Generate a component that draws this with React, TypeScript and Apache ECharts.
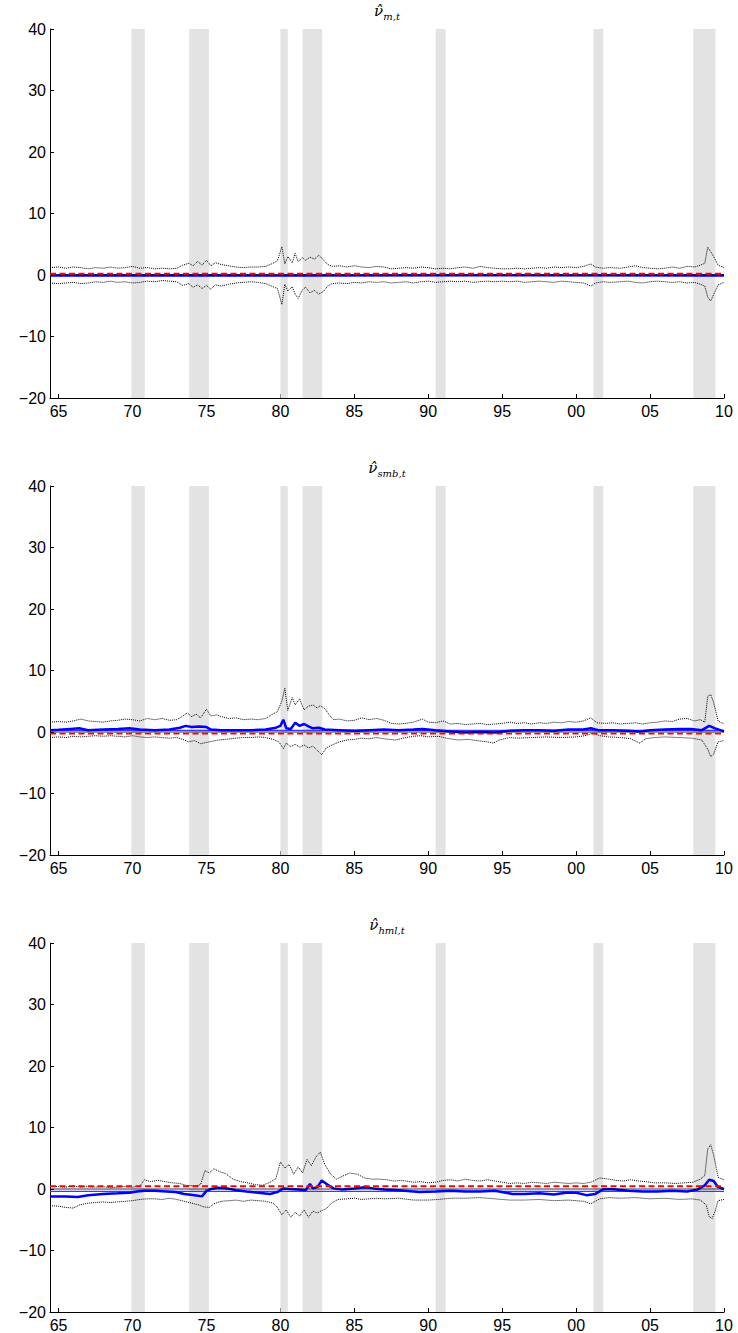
import React, { useEffect, useRef } from "react";
import * as echarts from "echarts";

// ---------- DATA ----------
const xTicks = [1965, 1970, 1975, 1980, 1985, 1990, 1995, 2000, 2005, 2010];
const yTicksMin = -20;
const yTicksMax = 40;
const xMin = 1964.42;
const xMax = 2010;

const recessions: [number, number][] = [
  [1969.92, 1970.83], [1973.83, 1975.17], [1980.0, 1980.5], [1981.5, 1982.83],
  [1990.5, 1991.17], [2001.17, 2001.83], [2007.92, 2009.42],
];

const panelTitles = ["m,t", "smb,t", "hml,t"];

// Panel 1: market
const mUpper: [number, number][] = [
  [1964.42,1.2],[1965,1.3],[1965.5,1.1],[1966,1.3],[1966.5,1.2],[1967,1.0],[1967.5,1.2],[1968,1.1],[1968.5,1.3],[1969,1.1],[1969.5,1.2],[1970,1.4],[1970.5,1.1],[1971,1.2],[1971.5,1.0],[1972,1.1],[1972.5,1.0],[1973,1.1],[1973.4,1.6],[1973.8,1.9],[1974.1,1.5],[1974.4,2.2],[1974.7,1.6],[1975,2.4],[1975.3,1.5],[1975.6,2.0],[1976,1.7],[1976.5,1.5],[1977,1.3],[1977.5,1.2],[1978,1.3],[1978.5,1.3],[1979,1.4],[1979.5,1.9],[1979.8,2.3],[1980.1,4.6],[1980.3,1.8],[1980.5,3.0],[1980.8,2.0],[1981,3.5],[1981.2,2.2],[1981.5,2.8],[1981.7,2.4],[1982,2.9],[1982.3,2.6],[1982.6,3.2],[1982.9,2.5],[1983.2,1.7],[1983.5,1.4],[1984,1.5],[1984.5,1.3],[1985,1.5],[1985.5,1.3],[1986,1.2],[1986.5,1.4],[1987,1.3],[1987.5,1.0],[1988,1.1],[1988.5,1.2],[1989,1.1],[1989.5,1.3],[1990,1.2],[1990.5,1.0],[1991,1.1],[1991.5,1.0],[1992,1.2],[1992.5,1.3],[1993,1.1],[1993.5,1.4],[1994,1.2],[1994.5,1.1],[1995,1.0],[1995.5,1.0],[1996,1.1],[1996.5,1.0],[1997,1.1],[1997.5,1.2],[1998,1.1],[1998.5,1.3],[1999,1.2],[1999.5,1.3],[2000,1.2],[2000.5,1.4],[2001,1.8],[2001.3,1.3],[2001.8,1.1],[2002.3,1.2],[2003,1.1],[2003.5,1.3],[2004,1.5],[2004.5,1.2],[2005,1.1],[2005.5,1.0],[2006,1.1],[2006.5,1.3],[2007,1.1],[2007.5,1.4],[2008,1.3],[2008.4,1.6],[2008.7,1.9],[2008.9,4.5],[2009.1,3.8],[2009.3,3.0],[2009.6,1.6],[2010,1.2],
];
const mLower: [number, number][] = [
  [1964.42,-1.3],[1965,-1.4],[1965.5,-1.3],[1966,-1.2],[1966.5,-1.4],[1967,-1.3],[1967.5,-1.1],[1968,-1.2],[1968.5,-1.0],[1969,-1.2],[1969.5,-1.1],[1970,-1.3],[1970.5,-1.2],[1971,-1.0],[1971.5,-1.1],[1972,-0.9],[1972.5,-1.0],[1973,-1.1],[1973.4,-1.7],[1973.8,-1.4],[1974.1,-2.0],[1974.4,-1.6],[1974.7,-2.2],[1975,-1.7],[1975.3,-2.3],[1975.6,-1.6],[1976,-1.8],[1976.5,-1.5],[1977,-1.3],[1977.5,-1.2],[1978,-1.1],[1978.5,-1.2],[1979,-1.4],[1979.5,-1.9],[1979.8,-2.2],[1980.1,-4.8],[1980.3,-1.5],[1980.5,-2.6],[1980.8,-1.9],[1981,-3.1],[1981.2,-3.8],[1981.5,-2.4],[1981.7,-2.0],[1982,-2.9],[1982.3,-2.5],[1982.6,-3.1],[1982.9,-2.7],[1983.2,-1.8],[1983.5,-1.4],[1984,-1.3],[1984.5,-1.4],[1985,-1.2],[1985.5,-1.3],[1986,-1.1],[1986.5,-1.2],[1987,-1.1],[1987.5,-1.3],[1988,-1.2],[1988.5,-1.1],[1989,-1.3],[1989.5,-1.1],[1990,-1.0],[1990.5,-1.2],[1991,-1.1],[1991.5,-1.0],[1992,-1.1],[1992.5,-1.0],[1993,-1.2],[1993.5,-1.1],[1994,-1.0],[1994.5,-1.1],[1995,-1.0],[1995.5,-1.1],[1996,-1.0],[1996.5,-1.2],[1997,-1.1],[1997.5,-1.0],[1998,-1.1],[1998.5,-1.2],[1999,-1.0],[1999.5,-1.1],[2000,-1.2],[2000.5,-1.3],[2001,-1.8],[2001.3,-1.3],[2001.8,-1.1],[2002.3,-1.2],[2003,-1.1],[2003.5,-1.0],[2004,-1.2],[2004.5,-1.3],[2005,-1.1],[2005.5,-1.0],[2006,-1.1],[2006.5,-1.2],[2007,-1.1],[2007.5,-1.3],[2008,-1.2],[2008.4,-1.5],[2008.7,-1.8],[2008.9,-3.6],[2009.1,-4.2],[2009.3,-3.2],[2009.6,-1.6],[2010,-1.2],
];
const mEst: [number, number][] = [[1964.42,-0.1],[1975,-0.05],[1981,-0.1],[1995,-0.05],[2010,-0.1]];
const mConst: [number, number][] = [[1964.42,0],[2010,0]];
const mTrue: [number, number][] = [[1964.42,0.2],[2010,0.2]];

// Panel 2: smb
const sUpper: [number, number][] = [
  [1964.42,1.6],[1965,1.7],[1965.5,1.6],[1966,1.8],[1966.5,2.1],[1967,1.8],[1967.5,1.7],[1968,1.6],[1968.5,1.8],[1969,1.9],[1969.5,2.1],[1970,2.0],[1970.5,1.8],[1971,2.2],[1971.5,2.0],[1972,2.2],[1972.5,1.9],[1973,2.0],[1973.4,2.6],[1973.7,3.1],[1974,2.5],[1974.3,2.9],[1974.6,2.3],[1975,3.7],[1975.3,2.6],[1975.7,2.8],[1976,2.5],[1976.5,2.2],[1977,2.3],[1977.5,2.0],[1978,2.1],[1978.5,2.0],[1979,2.2],[1979.4,2.8],[1979.8,3.3],[1980.1,5.0],[1980.3,7.1],[1980.5,3.5],[1980.8,5.6],[1981,4.4],[1981.3,5.4],[1981.6,3.6],[1981.9,4.2],[1982.2,4.4],[1982.5,3.9],[1982.7,4.3],[1983,3.8],[1983.3,2.8],[1983.6,2.0],[1984,2.1],[1984.5,1.8],[1985,1.9],[1985.5,2.3],[1986,2.0],[1986.5,2.2],[1987,1.9],[1987.5,1.4],[1988,1.3],[1988.5,1.4],[1989,1.6],[1989.6,2.1],[1990,1.6],[1990.5,1.5],[1991,1.8],[1991.5,1.3],[1992,1.4],[1992.5,1.2],[1993,1.3],[1993.5,1.4],[1994,1.2],[1994.5,1.3],[1995,1.4],[1995.5,1.6],[1996,1.4],[1996.5,1.5],[1997,1.3],[1997.5,1.5],[1998,1.4],[1998.5,1.6],[1999,1.5],[1999.5,1.7],[2000,1.6],[2000.5,1.8],[2001,2.3],[2001.4,1.5],[2002,1.4],[2002.5,1.5],[2003,1.3],[2003.5,1.4],[2004,1.5],[2004.5,1.3],[2005,1.5],[2005.5,1.6],[2006,1.8],[2006.5,1.7],[2007,2.1],[2007.5,2.2],[2008,1.8],[2008.4,2.0],[2008.7,1.6],[2008.9,5.8],[2009.1,6.1],[2009.3,4.8],[2009.6,1.8],[2010,1.3],
];
const sLower: [number, number][] = [
  [1964.42,-0.9],[1965,-0.8],[1965.5,-0.9],[1966,-0.7],[1966.5,-0.8],[1967,-0.7],[1967.5,-0.6],[1968,-0.7],[1968.5,-0.6],[1969,-0.7],[1969.5,-0.8],[1970,-0.6],[1970.5,-0.8],[1971,-0.9],[1971.5,-0.8],[1972,-0.9],[1972.5,-1.0],[1973,-0.9],[1973.4,-1.2],[1973.8,-1.6],[1974.2,-1.4],[1974.6,-1.9],[1975,-1.7],[1975.4,-1.5],[1975.8,-1.3],[1976.3,-1.2],[1977,-1.0],[1977.5,-0.9],[1978,-0.9],[1978.5,-0.8],[1979,-0.9],[1979.5,-1.2],[1979.9,-1.6],[1980.2,-2.7],[1980.4,-1.8],[1980.7,-2.4],[1981,-2.0],[1981.3,-2.5],[1981.6,-2.1],[1981.9,-2.6],[1982.2,-2.3],[1982.5,-3.0],[1982.8,-3.7],[1983.1,-2.6],[1983.5,-2.1],[1984,-1.6],[1984.5,-1.3],[1985,-1.2],[1985.5,-1.0],[1986,-1.1],[1986.5,-0.9],[1987,-1.1],[1987.8,-1.3],[1988.3,-1.0],[1989,-0.7],[1989.5,-0.6],[1990,-0.8],[1990.7,-0.7],[1991.2,-1.0],[1992,-1.3],[1992.7,-1.2],[1993.3,-1.4],[1994,-1.6],[1994.4,-1.8],[1994.8,-1.3],[1995.5,-0.9],[1996,-1.0],[1997,-0.9],[1998,-0.8],[1999,-0.9],[2000,-0.8],[2000.6,-0.6],[2001.1,-0.2],[2001.6,-0.6],[2002.2,-0.8],[2003,-0.9],[2003.7,-1.1],[2004.3,-1.8],[2004.7,-1.1],[2005.3,-0.9],[2006,-0.8],[2007,-0.9],[2007.8,-1.0],[2008.5,-1.3],[2008.9,-2.8],[2009.1,-4.0],[2009.3,-3.6],[2009.6,-1.6],[2010,-1.4],
];
const sEst: [number, number][] = [
  [1964.42,0.3],[1965,0.35],[1965.8,0.5],[1966.4,0.6],[1967,0.3],[1968,0.4],[1969,0.5],[1969.8,0.6],[1970.5,0.4],[1971.5,0.3],[1972.5,0.4],[1973.2,0.7],[1973.6,1.0],[1974,0.8],[1974.5,0.9],[1975,0.8],[1975.3,0.4],[1976,0.3],[1977,0.3],[1978,0.3],[1979,0.4],[1979.7,0.7],[1980.0,1.0],[1980.2,2.0],[1980.4,0.6],[1980.7,0.5],[1981.0,1.5],[1981.3,1.0],[1981.6,1.3],[1981.9,0.9],[1982.2,0.6],[1982.6,0.7],[1983,0.4],[1984,0.3],[1985,0.2],[1986,0.3],[1987,0.4],[1988,0.3],[1989,0.4],[1989.6,0.5],[1990.5,0.3],[1991.5,0.1],[1992.5,-0.1],[1993.5,0.0],[1994.5,-0.1],[1995.5,0.2],[1996.5,0.3],[1997.5,0.3],[1998.5,0.2],[1999.5,0.4],[2000.5,0.4],[2001,0.6],[2001.5,0.3],[2002.5,0.3],[2003.5,0.2],[2004.3,0.1],[2005,0.3],[2006,0.4],[2007,0.5],[2007.8,0.5],[2008.5,0.3],[2009.0,1.0],[2009.4,0.6],[2010,0.1],
];
const sConst: [number, number][] = [[1964.42,0.25],[2010,0.25]];
const sTrue: [number, number][] = [[1964.42,-0.25],[2010,-0.25]];

// Panel 3: hml
const hUpper: [number, number][] = [
  [1964.42,0.4],[1965,0.4],[1965.5,0.3],[1966,0.5],[1966.5,0.3],[1967,0.4],[1967.5,0.3],[1968,0.4],[1968.5,0.2],[1969,0.3],[1969.5,0.4],[1970,0.3],[1970.5,0.5],[1970.8,1.5],[1971.2,1.2],[1971.7,1.4],[1972.2,1.2],[1972.7,1.0],[1973.2,0.9],[1973.6,0.6],[1974.2,0.5],[1974.6,0.7],[1974.9,3.0],[1975.2,2.6],[1975.5,3.3],[1975.9,2.8],[1976.3,2.5],[1976.8,1.6],[1977.3,1.2],[1977.8,1.0],[1978.3,0.7],[1978.8,0.6],[1979.3,1.1],[1979.7,1.7],[1980,4.4],[1980.3,3.4],[1980.6,4.0],[1980.9,2.4],[1981.2,3.6],[1981.5,2.6],[1981.8,4.8],[1982.1,3.8],[1982.4,5.2],[1982.7,6.0],[1983,4.0],[1983.4,2.4],[1983.8,1.6],[1984.3,2.2],[1984.7,2.6],[1985.2,2.4],[1985.7,1.8],[1986.2,1.6],[1986.7,1.6],[1987.2,1.5],[1987.7,1.3],[1988.2,1.4],[1989,1.1],[1989.5,1.2],[1990,1.0],[1990.5,1.1],[1991,1.4],[1991.5,1.5],[1992,1.3],[1992.5,1.6],[1993,1.4],[1993.5,1.3],[1994,1.5],[1994.5,1.3],[1995,1.1],[1995.5,0.9],[1996,1.0],[1996.5,0.9],[1997,1.1],[1997.5,1.0],[1998,0.9],[1998.5,1.1],[1999,1.0],[1999.5,0.9],[2000,1.0],[2000.5,0.9],[2001,1.1],[2001.6,1.8],[2002.2,1.6],[2002.7,1.4],[2003.2,1.3],[2003.7,1.5],[2004.2,1.3],[2004.7,1.2],[2005.3,1.0],[2006,1.0],[2006.7,0.9],[2007.3,1.0],[2007.9,1.1],[2008.4,1.6],[2008.7,2.2],[2008.9,6.5],[2009.1,7.2],[2009.3,5.5],[2009.6,1.9],[2010,1.5],
];
const hLower: [number, number][] = [
  [1964.42,-2.7],[1965,-2.8],[1965.5,-3.0],[1966,-3.1],[1966.4,-2.6],[1967,-2.3],[1967.5,-2.2],[1968,-2.1],[1968.5,-2.2],[1969,-2.1],[1969.5,-2.0],[1970,-1.9],[1970.5,-1.7],[1971,-1.6],[1971.5,-1.6],[1972,-1.7],[1972.5,-1.5],[1973,-1.7],[1973.5,-2.0],[1974,-2.3],[1974.5,-2.6],[1974.8,-2.9],[1975.2,-3.0],[1975.5,-2.4],[1976,-2.0],[1976.5,-1.9],[1977,-1.8],[1977.5,-2.0],[1978,-1.8],[1978.5,-1.9],[1979,-2.0],[1979.5,-2.3],[1979.8,-3.0],[1980.1,-4.2],[1980.4,-3.4],[1980.7,-4.6],[1981,-3.8],[1981.3,-4.4],[1981.6,-3.4],[1981.9,-4.6],[1982.2,-3.6],[1982.5,-3.9],[1982.8,-3.5],[1983.1,-3.2],[1983.5,-2.2],[1983.9,-1.7],[1984.5,-1.6],[1985,-1.5],[1985.5,-1.7],[1986,-1.6],[1986.5,-1.5],[1987,-1.6],[1988,-1.5],[1989,-1.8],[1990,-1.8],[1990.7,-1.7],[1991.5,-1.5],[1992.5,-1.5],[1993.5,-1.4],[1994.5,-1.6],[1995.5,-1.8],[1996.5,-1.8],[1997.5,-1.7],[1998.5,-1.9],[1999.5,-1.8],[2000.5,-2.0],[2001.0,-2.4],[2001.6,-1.6],[2002.2,-1.4],[2003,-1.5],[2004,-1.4],[2005,-1.6],[2006,-1.5],[2007,-1.7],[2007.8,-1.6],[2008.4,-1.8],[2008.8,-2.6],[2009.0,-4.5],[2009.2,-4.8],[2009.4,-3.6],[2009.6,-1.9],[2010,-1.7],
];
const hEst: [number, number][] = [
  [1964.42,-1.2],[1965.5,-1.2],[1966.3,-1.3],[1967,-1.0],[1968,-0.8],[1969,-0.7],[1969.8,-0.6],[1970.3,-0.4],[1970.8,-0.3],[1971.5,-0.3],[1972.3,-0.4],[1972.9,-0.5],[1973.5,-0.8],[1974.2,-1.0],[1974.7,-1.2],[1975.0,-0.3],[1975.3,0.0],[1975.8,0.2],[1976.4,0.1],[1977,-0.2],[1977.7,-0.4],[1978.5,-0.6],[1979.3,-0.8],[1979.8,-0.5],[1980.2,0.1],[1980.6,0.0],[1981.2,-0.1],[1981.7,-0.2],[1982.0,0.8],[1982.2,0.1],[1982.5,0.3],[1982.8,1.4],[1983.2,0.7],[1983.6,0.1],[1984.2,-0.1],[1985,0.1],[1985.7,0.3],[1986.3,0.1],[1987,-0.1],[1988,-0.2],[1989.4,-0.5],[1990.5,-0.4],[1991.5,-0.3],[1992.5,-0.4],[1993.5,-0.4],[1994.5,-0.3],[1995.7,-0.8],[1996.5,-0.8],[1997.5,-0.7],[1998.5,-0.9],[1999.3,-0.6],[2000,-0.6],[2000.7,-1.0],[2001.3,-0.8],[2001.8,-0.1],[2002.2,0.0],[2002.7,-0.1],[2003.5,-0.3],[2004.5,-0.4],[2005.5,-0.4],[2006.5,-0.3],[2007.5,-0.4],[2008.2,-0.1],[2008.7,0.6],[2009.0,1.5],[2009.3,1.3],[2009.6,0.3],[2010,0.0],
];
const hConst: [number, number][] = [[1964.42,-0.4],[2010,-0.4]];
const hTrue: [number, number][] = [[1964.42,0.45],[2010,0.45]];

const zeroLine: [number, number][] = [[1964.42,0],[2010,0]];

const panels = [
  { upper: mUpper, lower: mLower, est: mEst, cst: mConst, tru: mTrue },
  { upper: sUpper, lower: sLower, est: sEst, cst: sConst, tru: sTrue },
  { upper: hUpper, lower: hLower, est: hEst, cst: hConst, tru: hTrue },
];

// ---------- LAYOUT ----------
const W = 738;
const H = 1333;
const gridLeft = 50;
const gridRight = 14;
const gridTops = [29, 486, 943];
const gridHeight = 369;

export default function App() {
  const ref = useRef<HTMLDivElement>(null);
  useEffect(() => {
    if (!ref.current) return;
    const chart = echarts.init(ref.current, null, { renderer: "svg" });
    const fontAxis = "'Liberation Sans', Arial, Helvetica, sans-serif";
    const grids = gridTops.map((t) => ({ left: gridLeft, right: gridRight, top: t, height: gridHeight }));
    const xAxes = gridTops.map((_, i) => ({
      type: "value",
      gridIndex: i,
      min: xMin,
      max: xMax,
      axisLine: { onZero: false, lineStyle: { color: "#000", width: 1 } },
      axisTick: { inside: true, length: 4, customValues: xTicks, lineStyle: { color: "#000" } },
      axisLabel: {
        customValues: xTicks,
        margin: 5,
        color: "#000",
        fontSize: 16,
        fontFamily: fontAxis,
        formatter: (v: number) => String(Math.round(v) % 100).padStart(2, "0"),
      },
      splitLine: { show: false },
    }));
    const yAxes = gridTops.map((_, i) => ({
      type: "value",
      gridIndex: i,
      min: yTicksMin,
      max: yTicksMax,
      interval: 10,
      axisLine: { show: true, onZero: false, lineStyle: { color: "#000", width: 1 } },
      axisTick: { show: true, inside: true, length: 4, lineStyle: { color: "#000" } },
      axisLabel: {
        margin: 4,
        color: "#000",
        fontSize: 16,
        fontFamily: fontAxis,
        formatter: (v: number) => (v < 0 ? "\u2212" + Math.abs(v) : String(v)),
      },
      splitLine: { show: false },
    }));
    const series: any[] = [];
    panels.forEach((p, i) => {
      const base = { type: "line", xAxisIndex: i, yAxisIndex: i, showSymbol: false, symbol: "none", silent: true };
      series.push({
        ...base,
        data: [],
        markArea: {
          silent: true,
          itemStyle: { color: "#e3e3e3" },
          data: recessions.map(([a, b]) => [{ xAxis: a }, { xAxis: b }]),
        },
      });
      series.push({ ...base, data: p.upper, lineStyle: { color: "#000", width: 1, type: "dotted" } });
      series.push({ ...base, data: p.lower, lineStyle: { color: "#000", width: 1, type: "dotted" } });
      series.push({ ...base, data: p.cst, lineStyle: { color: "#3a3aff", width: 1.2 } });
      series.push({ ...base, data: p.est, lineStyle: { color: "#0000ff", width: 2.5 } });
      series.push({ ...base, data: zeroLine, lineStyle: { color: "#000", width: 0.8 } });
      series.push({ ...base, data: p.tru, lineStyle: { color: "#ff0000", width: 1.8, type: [6, 3.5] } });
    });
    const graphic = panelTitles.map((t, i) => ({
      type: "text",
      x: gridLeft + (W - gridLeft - gridRight) / 2,
      y: gridTops[i] - 17,
      style: {
        text: `{v|\u03BD\u0302}{s|${t}}`,
        align: "center",
        verticalAlign: "middle",
        fill: "#000",
        rich: {
          v: { fontFamily: "'DejaVu Serif', 'Liberation Serif', serif", fontStyle: "italic", fontSize: 15, lineHeight: 18, verticalAlign: "top" },
          s: { fontFamily: "'DejaVu Serif', 'Liberation Serif', serif", fontStyle: "italic", fontSize: 10, lineHeight: 18, verticalAlign: "bottom", padding: [6, 0, 0, 0] },
        },
      },
    }));
    chart.setOption({
      animation: false,
      backgroundColor: "#fff",
      grid: grids,
      xAxis: xAxes,
      yAxis: yAxes,
      series,
      graphic,
    });
    return () => chart.dispose();
  }, []);
  return <div ref={ref} style={{ position: "absolute", left: 0, top: 0, width: W, height: H }} />;
}
